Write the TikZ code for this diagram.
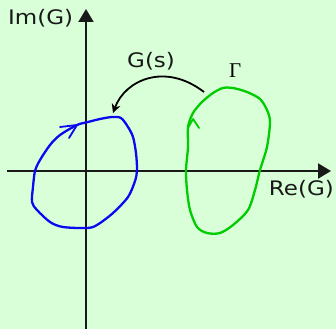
\documentclass[tikz,border=0pt]{standalone}
\usepackage{fontspec}
\setmainfont{DejaVu Sans}
\newfontfamily\lblfont[FakeStretch=1.15]{DejaVu Sans}
\newfontfamily\gammafont{Liberation Serif}
\usetikzlibrary{arrows.meta}
\definecolor{bgc}{HTML}{D9FFD9}
\definecolor{bluec}{HTML}{0A0AF0}
\definecolor{greenc}{HTML}{00CC00}
\tikzset{
  axis/.style={line width=2.2pt, black!90, -{Triangle[width=15pt,length=13pt]}},
  lbl/.style={inner sep=0pt, anchor=base west, font=\lblfont\fontsize{20}{24}\selectfont, text=black!90},
  contour/.style={line width=2.3pt, line join=round, line cap=round},
  chev/.style={line width=1.8pt, line cap=round, line join=round},
  maparrow/.style={line width=1.8pt, -{Stealth[width=9pt,length=9pt]}}
}
\begin{document}
\begin{tikzpicture}[x=1pt,y=-1pt]
\fill[bgc] (0,0) rectangle (336,329);
\useasboundingbox (0,0) rectangle (336,329);
% axes
\coordinate (ytop) at (86,9);
\coordinate (ybot) at (86,329);
\coordinate (xl) at (7,171);
\coordinate (xr) at (331,171);
\draw[axis] (ybot) -- (ytop);
\draw[axis] (xl) -- (xr);
\node[lbl] (im) at (8,24) {Im(G)};
\node[lbl, anchor=base east] (re) at (334,195) {Re(G)};
\node[lbl] (gs) at (127,67) {G(s)};
\node[inner sep=0pt, anchor=base west, font=\gammafont\fontsize{21}{25}\selectfont] (gam) at (229,77) {Γ};
% blue contour
\draw[contour, bluec] plot[smooth cycle, tension=0.5] coordinates {
 (77,125) (60,135) (50,145) (40,160) (35,171) (33,187) (32,202) (37,210)
 (50,222) (63,227) (87,228) (97,225) (113,213) (128,197) (135,181) (137,170)
 (136,153) (133,137) (128,127) (121,118) (112,117) (100,119) (88,122)};
\draw[chev, bluec] (60,127) -- (77,125) -- (69,138);
% green contour
\draw[contour, greenc] plot[smooth cycle, tension=0.5] coordinates {
 (188,127) (193,113) (202,102) (213,93) (223,88) (233,88) (247,92) (260,99)
 (267,110) (270,122) (267,147) (260,170) (255,190) (248,210) (233,225)
 (220,233) (207,233) (197,227) (190,210) (187,190) (186,170) (188,147)};
\draw[chev, greenc] (188,128) -- (193,119) -- (199,128);
% mapping arrow
\coordinate (ms) at (204,92);
\coordinate (me) at (113,113);
\draw[maparrow] (ms) .. controls (165,62) and (125,80) .. (me);
\end{tikzpicture}
\end{document}
